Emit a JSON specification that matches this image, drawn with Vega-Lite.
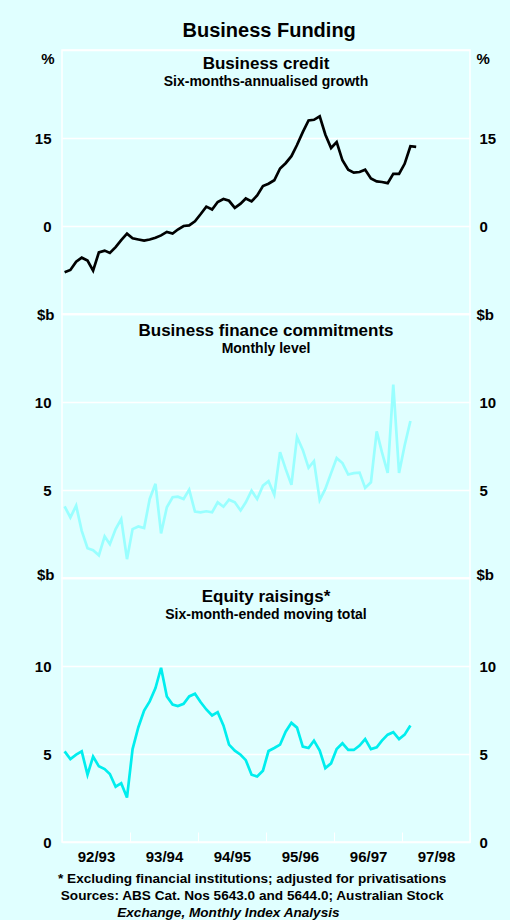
{
  "$schema": "https://vega.github.io/schema/vega-lite/v6.json",
  "autosize": {"type": "pad"},
  "padding": {"left": 33, "top": 21, "right": 15, "bottom": 0},
  "background": "#e0ffff",
  "title": {"text": "Business Funding", "fontSize": 20, "fontWeight": "bold", "font": "Liberation Sans", "color": "#000000", "anchor": "middle", "frame": "bounds", "offset": 8},
  "data": {"values": [
    {"date": "1992-07-15", "credit": -7.9, "commitments": 4.07, "equity": 5.15},
    {"date": "1992-08-15", "credit": -7.5, "commitments": 3.44, "equity": 4.71},
    {"date": "1992-09-15", "credit": -6.1, "commitments": 4.11, "equity": 4.96},
    {"date": "1992-10-15", "credit": -5.4, "commitments": 2.68, "equity": 5.15},
    {"date": "1992-11-15", "credit": -5.9, "commitments": 1.69, "equity": 3.82},
    {"date": "1992-12-15", "credit": -7.6, "commitments": 1.58, "equity": 4.85},
    {"date": "1993-01-15", "credit": -4.5, "commitments": 1.29, "equity": 4.30},
    {"date": "1993-02-15", "credit": -4.2, "commitments": 2.36, "equity": 4.14},
    {"date": "1993-03-15", "credit": -4.6, "commitments": 1.92, "equity": 3.86},
    {"date": "1993-04-15", "credit": -3.6, "commitments": 2.78, "equity": 3.14},
    {"date": "1993-05-15", "credit": -2.4, "commitments": 3.35, "equity": 3.34},
    {"date": "1993-06-15", "credit": -1.3, "commitments": 1.07, "equity": 2.53},
    {"date": "1993-07-15", "credit": -2.1, "commitments": 2.78, "equity": 5.28},
    {"date": "1993-08-15", "credit": -2.3, "commitments": 2.93, "equity": 6.52},
    {"date": "1993-09-15", "credit": -2.5, "commitments": 2.84, "equity": 7.47},
    {"date": "1993-10-15", "credit": -2.3, "commitments": 4.49, "equity": 7.99},
    {"date": "1993-11-15", "credit": -2.0, "commitments": 5.35, "equity": 8.75},
    {"date": "1993-12-15", "credit": -1.6, "commitments": 2.53, "equity": 9.90},
    {"date": "1994-01-15", "credit": -1.0, "commitments": 4.02, "equity": 8.27},
    {"date": "1994-02-15", "credit": -1.3, "commitments": 4.59, "equity": 7.81},
    {"date": "1994-03-15", "credit": -0.6, "commitments": 4.62, "equity": 7.72},
    {"date": "1994-04-15", "credit": 0.0, "commitments": 4.49, "equity": 7.85},
    {"date": "1994-05-15", "credit": 0.1, "commitments": 5.02, "equity": 8.27},
    {"date": "1994-06-15", "credit": 0.8, "commitments": 3.77, "equity": 8.42},
    {"date": "1994-07-15", "credit": 2.0, "commitments": 3.73, "equity": 7.95},
    {"date": "1994-08-15", "credit": 3.3, "commitments": 3.79, "equity": 7.53},
    {"date": "1994-09-15", "credit": 2.8, "commitments": 3.73, "equity": 7.19},
    {"date": "1994-10-15", "credit": 4.1, "commitments": 4.30, "equity": 7.38},
    {"date": "1994-11-15", "credit": 4.6, "commitments": 4.05, "equity": 6.62},
    {"date": "1994-12-15", "credit": 4.3, "commitments": 4.45, "equity": 5.53},
    {"date": "1995-01-15", "credit": 3.1, "commitments": 4.30, "equity": 5.19},
    {"date": "1995-02-15", "credit": 3.8, "commitments": 3.84, "equity": 4.96},
    {"date": "1995-03-15", "credit": 4.7, "commitments": 4.30, "equity": 4.65},
    {"date": "1995-04-15", "credit": 4.2, "commitments": 4.96, "equity": 3.82},
    {"date": "1995-05-15", "credit": 5.2, "commitments": 4.49, "equity": 3.72},
    {"date": "1995-06-15", "credit": 6.8, "commitments": 5.25, "equity": 4.05},
    {"date": "1995-07-15", "credit": 7.2, "commitments": 5.50, "equity": 5.17},
    {"date": "1995-08-15", "credit": 7.8, "commitments": 4.73, "equity": 5.34},
    {"date": "1995-09-15", "credit": 9.8, "commitments": 7.15, "equity": 5.53},
    {"date": "1995-10-15", "credit": 10.7, "commitments": 6.20, "equity": 6.27},
    {"date": "1995-11-15", "credit": 11.9, "commitments": 5.29, "equity": 6.77},
    {"date": "1995-12-15", "credit": 13.8, "commitments": 8.01, "equity": 6.50},
    {"date": "1996-01-15", "credit": 16.0, "commitments": 7.28, "equity": 5.42},
    {"date": "1996-02-15", "credit": 18.0, "commitments": 6.26, "equity": 5.34},
    {"date": "1996-03-15", "credit": 18.1, "commitments": 6.64, "equity": 5.76},
    {"date": "1996-04-15", "credit": 18.7, "commitments": 4.43, "equity": 5.19},
    {"date": "1996-05-15", "credit": 15.6, "commitments": 5.06, "equity": 4.20},
    {"date": "1996-06-15", "credit": 13.3, "commitments": 5.96, "equity": 4.47},
    {"date": "1996-07-15", "credit": 14.3, "commitments": 6.81, "equity": 5.28},
    {"date": "1996-08-15", "credit": 11.2, "commitments": 6.53, "equity": 5.61},
    {"date": "1996-09-15", "credit": 9.6, "commitments": 5.88, "equity": 5.23},
    {"date": "1996-10-15", "credit": 9.1, "commitments": 5.96, "equity": 5.23},
    {"date": "1996-11-15", "credit": 9.2, "commitments": 5.99, "equity": 5.48},
    {"date": "1996-12-15", "credit": 9.6, "commitments": 5.12, "equity": 5.85},
    {"date": "1997-01-15", "credit": 8.1, "commitments": 5.44, "equity": 5.28},
    {"date": "1997-02-15", "credit": 7.6, "commitments": 8.33, "equity": 5.38},
    {"date": "1997-03-15", "credit": 7.5, "commitments": 7.15, "equity": 5.76},
    {"date": "1997-04-15", "credit": 7.3, "commitments": 5.97, "equity": 6.10},
    {"date": "1997-05-15", "credit": 8.9, "commitments": 10.99, "equity": 6.24},
    {"date": "1997-06-15", "credit": 8.9, "commitments": 5.97, "equity": 5.85},
    {"date": "1997-07-15", "credit": 10.6, "commitments": 7.53, "equity": 6.10},
    {"date": "1997-08-15", "credit": 13.6, "commitments": 8.92, "equity": 6.62},
    {"date": "1997-09-15", "credit": 13.5}
  ]},
  "spacing": 0,
  "bounds": "flush",
  "vconcat": [
    {
      "width": 408, "height": 264,
      "title": {"text": "Business credit", "subtitle": "Six-months-annualised growth", "offset": -40, "frame": "group"},
      "layer": [
        {
          "mark": {"type": "line", "color": "#000000", "strokeWidth": 2.7},
          "encoding": {
            "x": {"field": "date", "type": "temporal", "scale": {"type": "utc", "domain": [{"year": 1992, "month": 7, "date": 1, "utc": true}, {"year": 1998, "month": 7, "date": 1, "utc": true}]}, "axis": null},
            "y": {"field": "credit", "type": "quantitative", "scale": {"domain": [-15, 30], "nice": false, "zero": false},
              "axis": {"orient": "left", "values": [-15, 0, 15, 30], "grid": true, "labelExpr": "datum.value == 0 || datum.value == 15 ? datum.label : ''", "title": "%", "titleX": -8, "titleY": 8, "titleAlign": "right", "labelPadding": 11}}
          }
        },
        {
          "mark": {"type": "line", "opacity": 0},
          "encoding": {
            "x": {"field": "date", "type": "temporal", "scale": {"type": "utc", "domain": [{"year": 1992, "month": 7, "date": 1, "utc": true}, {"year": 1998, "month": 7, "date": 1, "utc": true}]}, "axis": null},
            "y": {"field": "credit", "type": "quantitative", "scale": {"domain": [-15, 30], "nice": false, "zero": false},
              "axis": {"orient": "right", "values": [-15, 0, 15, 30], "grid": false, "labelExpr": "datum.value == 0 || datum.value == 15 ? datum.label : ''", "title": "%", "titleX": 6, "titleY": 8, "titleAlign": "left", "labelPadding": 9}}
          }
        }
      ],
      "resolve": {"axis": {"y": "independent"}}
    },
    {
      "width": 408, "height": 264,
      "title": {"text": "Business finance commitments", "subtitle": "Monthly level", "offset": -50, "frame": "group"},
      "layer": [
        {
          "mark": {"type": "line", "color": "#99ffff", "strokeWidth": 2.7},
          "encoding": {
            "x": {"field": "date", "type": "temporal", "scale": {"type": "utc", "domain": [{"year": 1992, "month": 7, "date": 1, "utc": true}, {"year": 1998, "month": 7, "date": 1, "utc": true}]}, "axis": null},
            "y": {"field": "commitments", "type": "quantitative", "scale": {"domain": [0, 15], "nice": false},
              "axis": {"orient": "left", "values": [0, 5, 10, 15], "grid": true, "labelExpr": "datum.value == 5 || datum.value == 10 ? datum.label : ''", "title": "$b", "titleX": -8, "titleY": 0, "titleAlign": "right", "labelPadding": 11}}
          }
        },
        {
          "mark": {"type": "line", "opacity": 0},
          "encoding": {
            "x": {"field": "date", "type": "temporal", "scale": {"type": "utc", "domain": [{"year": 1992, "month": 7, "date": 1, "utc": true}, {"year": 1998, "month": 7, "date": 1, "utc": true}]}, "axis": null},
            "y": {"field": "commitments", "type": "quantitative", "scale": {"domain": [0, 15], "nice": false},
              "axis": {"orient": "right", "values": [0, 5, 10, 15], "grid": false, "labelExpr": "datum.value == 5 || datum.value == 10 ? datum.label : ''", "title": "$b", "titleX": 6, "titleY": 0, "titleAlign": "left", "labelPadding": 9}}
          }
        }
      ],
      "resolve": {"axis": {"y": "independent"}}
    },
    {
      "spacing": 0,
      "bounds": "flush",
      "title": {
        "text": ["*  Excluding financial institutions; adjusted for privatisations", "Sources: ABS Cat. Nos 5643.0 and 5644.0; Australian Stock"],
        "subtitle": "Exchange, Monthly Index Analysis\u2002\u2002\u2002\u2002\u2002\u2002\u2002\u200d",
        "orient": "bottom", "anchor": "middle", "frame": "bounds",
        "fontSize": 13.6, "lineHeight": 17.5, "subtitleFontSize": 13.6, "subtitleFontWeight": "bold", "subtitleFontStyle": "italic", "subtitleColor": "#000000", "subtitlePadding": 3,
        "offset": 7, "dx": -17
      },
      "vconcat": [
        {
          "width": 408, "height": 264,
          "title": {"text": "Equity raisings*", "subtitle": "Six-month-ended moving total", "offset": -56, "frame": "group"},
          "layer": [
            {
              "mark": {"type": "line", "color": "#00eeee", "strokeWidth": 2.7},
              "encoding": {
                "x": {"field": "date", "type": "temporal", "scale": {"type": "utc", "domain": [{"year": 1992, "month": 7, "date": 1, "utc": true}, {"year": 1998, "month": 7, "date": 1, "utc": true}]},
                  "axis": {"values": [{"year": 1992, "month": 7, "date": 1, "utc": true}, {"year": 1993, "month": 7, "date": 1, "utc": true}, {"year": 1994, "month": 7, "date": 1, "utc": true}, {"year": 1995, "month": 7, "date": 1, "utc": true}, {"year": 1996, "month": 7, "date": 1, "utc": true}, {"year": 1997, "month": 7, "date": 1, "utc": true}, {"year": 1998, "month": 7, "date": 1, "utc": true}],
                    "labelExpr": "utcyear(datum.value) >= 1998 ? '' : slice(toString(utcyear(datum.value)), 2) + '/' + slice(toString(utcyear(datum.value) + 1), 2)",
                    "labelOffset": 34, "labelFlush": false, "labelOverlap": false, "ticks": true, "tickSize": -10, "tickColor": "#ffffff", "tickWidth": 1, "labelPadding": 17, "title": null, "grid": false}},
                "y": {"field": "equity", "type": "quantitative", "scale": {"domain": [0, 15], "nice": false},
                  "axis": {"orient": "left", "values": [0, 5, 10, 15], "grid": true, "labelExpr": "datum.value < 15 ? datum.label : ''", "title": "$b", "titleX": -8, "titleY": -4, "titleAlign": "right", "labelPadding": 11}}
              }
            },
            {
              "mark": {"type": "line", "opacity": 0},
              "encoding": {
                "x": {"field": "date", "type": "temporal", "scale": {"type": "utc", "domain": [{"year": 1992, "month": 7, "date": 1, "utc": true}, {"year": 1998, "month": 7, "date": 1, "utc": true}]}},
                "y": {"field": "equity", "type": "quantitative", "scale": {"domain": [0, 15], "nice": false},
                  "axis": {"orient": "right", "values": [0, 5, 10, 15], "grid": false, "labelExpr": "datum.value < 15 ? datum.label : ''", "title": "$b", "titleX": 6, "titleY": -4, "titleAlign": "left", "labelPadding": 9}}
              }
            }
          ],
          "resolve": {"axis": {"y": "independent"}}
        }
      ]
    }
  ],
  "config": {
    "font": "Liberation Sans",
    "view": {"stroke": "#ffffff", "strokeWidth": 1.5},
    "axis": {"domain": false, "ticks": false, "gridColor": "#ffffff", "gridWidth": 1.5, "gridOpacity": 1, "labelFont": "Liberation Sans", "labelFontSize": 15, "labelFontWeight": "bold", "labelColor": "#000000", "titleFont": "Liberation Sans", "titleFontSize": 15, "titleFontWeight": "bold", "titleColor": "#000000", "titleAngle": 0, "titleBaseline": "middle"},
    "title": {"font": "Liberation Sans", "fontSize": 17, "fontWeight": "bold", "color": "#000000", "subtitleFont": "Liberation Sans", "subtitleFontSize": 14, "subtitleFontWeight": "bold", "subtitleColor": "#000000", "subtitlePadding": 2, "anchor": "middle"}
  }
}
